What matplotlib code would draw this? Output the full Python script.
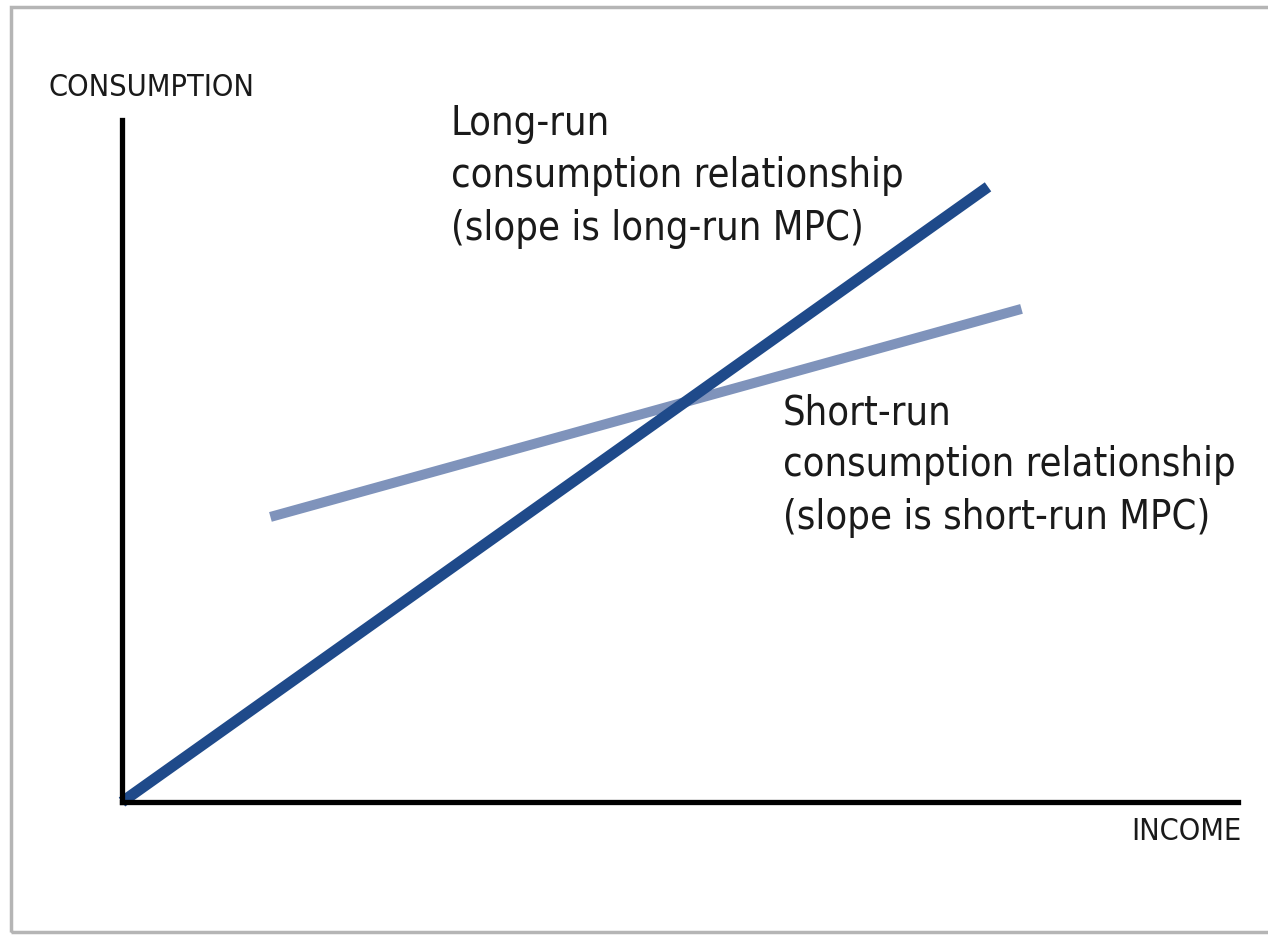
import matplotlib
matplotlib.use('Agg')
import matplotlib.pyplot as plt
from matplotlib.patches import Rectangle

# Dados (unidades arbitrárias: renda e consumo)
renda_longo = [0, 77.6]
consumo_longo = [0, 90.2]
renda_curto = [13.3, 80.6]
consumo_curto = [41.8, 72.3]

rotulo_longo = 'Long-run\nconsumption relationship\n(slope is long-run MPC)'
rotulo_curto = 'Short-run\nconsumption relationship\n(slope is short-run MPC)'

plt.rcParams['font.family'] = ['DejaVu Sans']

fig = plt.figure(figsize=(12.68, 9.35), dpi=100)

# moldura cinza
fig.patches.append(Rectangle((11 / 1268, 3 / 935), 1.2, 925 / 935, transform=fig.transFigure,
                             fill=False, edgecolor='#b5b5b5', linewidth=2.5))

ax = fig.add_axes([122 / 1268, 133 / 935, 1116 / 1268, 682 / 935])
ax.set_xlim(0, 100)
ax.set_ylim(0, 100)

ax.plot(renda_curto, consumo_curto, color='#7f93bb', linewidth=7.2, solid_capstyle='butt')
ax.plot(renda_longo, consumo_longo, color='#1f4a8a', linewidth=8, solid_capstyle='butt', clip_on=False)

for lado in ['top', 'right']:
    ax.spines[lado].set_visible(False)
for lado in ['left', 'bottom']:
    ax.spines[lado].set_linewidth(3.8)
    ax.spines[lado].set_color('black')
    ax.spines[lado].set_capstyle('projecting')
ax.set_xticks([])
ax.set_yticks([])
ax.patch.set_alpha(0)

fig.text(48 / 1268, 1 - 88 / 935, 'CONSUMPTION', fontsize=22, va='center', ha='left',
         color='#1a1a1a', fontstretch='condensed')
fig.text(1241 / 1268, 1 - 832 / 935, 'INCOME', fontsize=22, va='center', ha='right',
         color='#1a1a1a', fontstretch='condensed')
fig.text(451 / 1268, 1 - 104 / 935, rotulo_longo, fontsize=28.5, va='top', ha='left',
         linespacing=1.40, color='#1a1a1a', fontstretch='condensed')
fig.text(783 / 1268, 1 - 393 / 935, rotulo_curto, fontsize=28.5, va='top', ha='left',
         linespacing=1.40, color='#1a1a1a', fontstretch='condensed')

plt.savefig('out.png', dpi=100)
